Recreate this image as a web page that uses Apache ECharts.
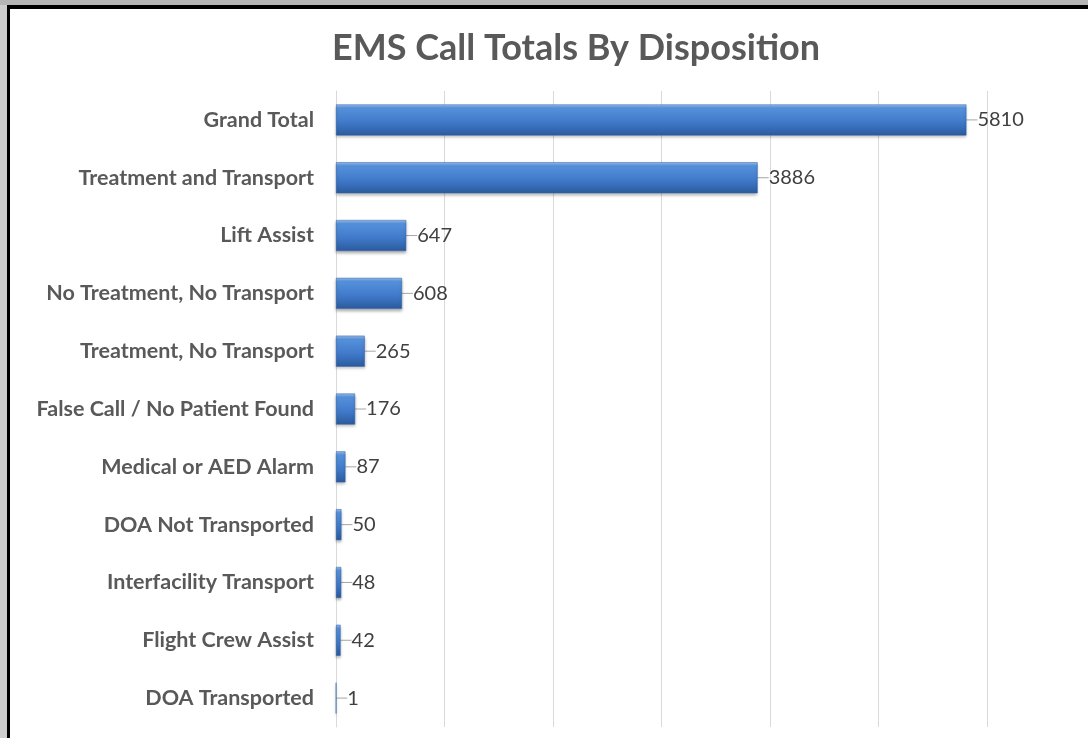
<!DOCTYPE html>
<html>
<head>
<meta charset="utf-8">
<script src="https://cdn.jsdelivr.net/npm/echarts@6/dist/echarts.min.js"></script>
<style>
  html, body { margin: 0; padding: 0; background: #b5b5b5; overflow: hidden; }
  #side { position: absolute; left: 0; top: 5px; width: 7px; height: 733px; background: #cdcdcd; }
  #frame {
    position: absolute; left: 7px; top: 5px; width: 1081px; height: 733px; box-sizing: border-box;
    border-left: 3px solid #000; border-top: 4px solid #000; background: #fff;
  }
  #chart { position: absolute; left: 0; top: 0; width: 1088px; height: 738px; }
</style>
</head>
<body>
<div id="side"></div>
<div id="frame"></div>
<div id="chart"></div>
<script>
// categories, top to bottom as drawn
const categories = [
  "Grand Total",
  "Treatment and Transport",
  "Lift Assist",
  "No Treatment, No Transport",
  "Treatment, No Transport",
  "False Call / No Patient Found",
  "Medical or AED Alarm",
  "DOA Not Transported",
  "Interfacility Transport",
  "Flight Crew Assist",
  "DOA Transported"
];
const callCounts = [5810, 3886, 647, 608, 265, 176, 87, 50, 48, 42, 1];
const xTicks = [0, 1000, 2000, 3000, 4000, 5000, 6000];

const font = "Lato, 'Open Sans', sans-serif";

const myChart = echarts.init(document.getElementById("chart"));
myChart.setOption({
  animation: false,
  title: {
    text: "EMS Call Totals By Disposition",
    left: 327,
    top: 25,
    textStyle: { fontFamily: font, fontSize: 36, fontWeight: "bold", color: "#595959" }
  },
  grid: { left: 336, right: 101, top: 91, bottom: 11, containLabel: false },
  xAxis: {
    type: "value",
    min: xTicks[0],
    max: xTicks[xTicks.length - 1],
    interval: 1000,
    axisLabel: { show: false },
    axisLine: { show: false },
    axisTick: { show: false },
    splitLine: { lineStyle: { color: "#d9d9d9", width: 1 } }
  },
  yAxis: {
    type: "category",
    inverse: true,
    data: categories,
    axisTick: { show: false },
    axisLine: { lineStyle: { color: "#d9d9d9" } },
    axisLabel: {
      margin: 22,
      fontFamily: font, fontSize: 21.5, fontWeight: "bold", color: "#595959"
    }
  },
  series: [{
    type: "bar",
    data: callCounts,
    barWidth: 31,
    itemStyle: {
      color: new echarts.graphic.LinearGradient(0, 0, 0, 1, [
        { offset: 0, color: "#9cc0ef" },
        { offset: 0.12, color: "#5591dc" },
        { offset: 0.6, color: "#3f78c8" },
        { offset: 1, color: "#2b5a9c" }
      ]),
      borderColor: "#2f62a8",
      borderWidth: 0.5,
      shadowColor: "rgba(0,0,0,0.3)",
      shadowBlur: 3,
      shadowOffsetY: 2
    },
    label: {
      show: true,
      position: "right",
      distance: 0,
      padding: [0, 0, 0, 3],
      fontFamily: font, fontSize: 20, color: "#404040"
    },
    labelLayout: { dx: 8 },
    labelLine: { show: true, lineStyle: { color: "#a6a6a6", width: 1 } }
  }]
});
</script>
</body>
</html>
